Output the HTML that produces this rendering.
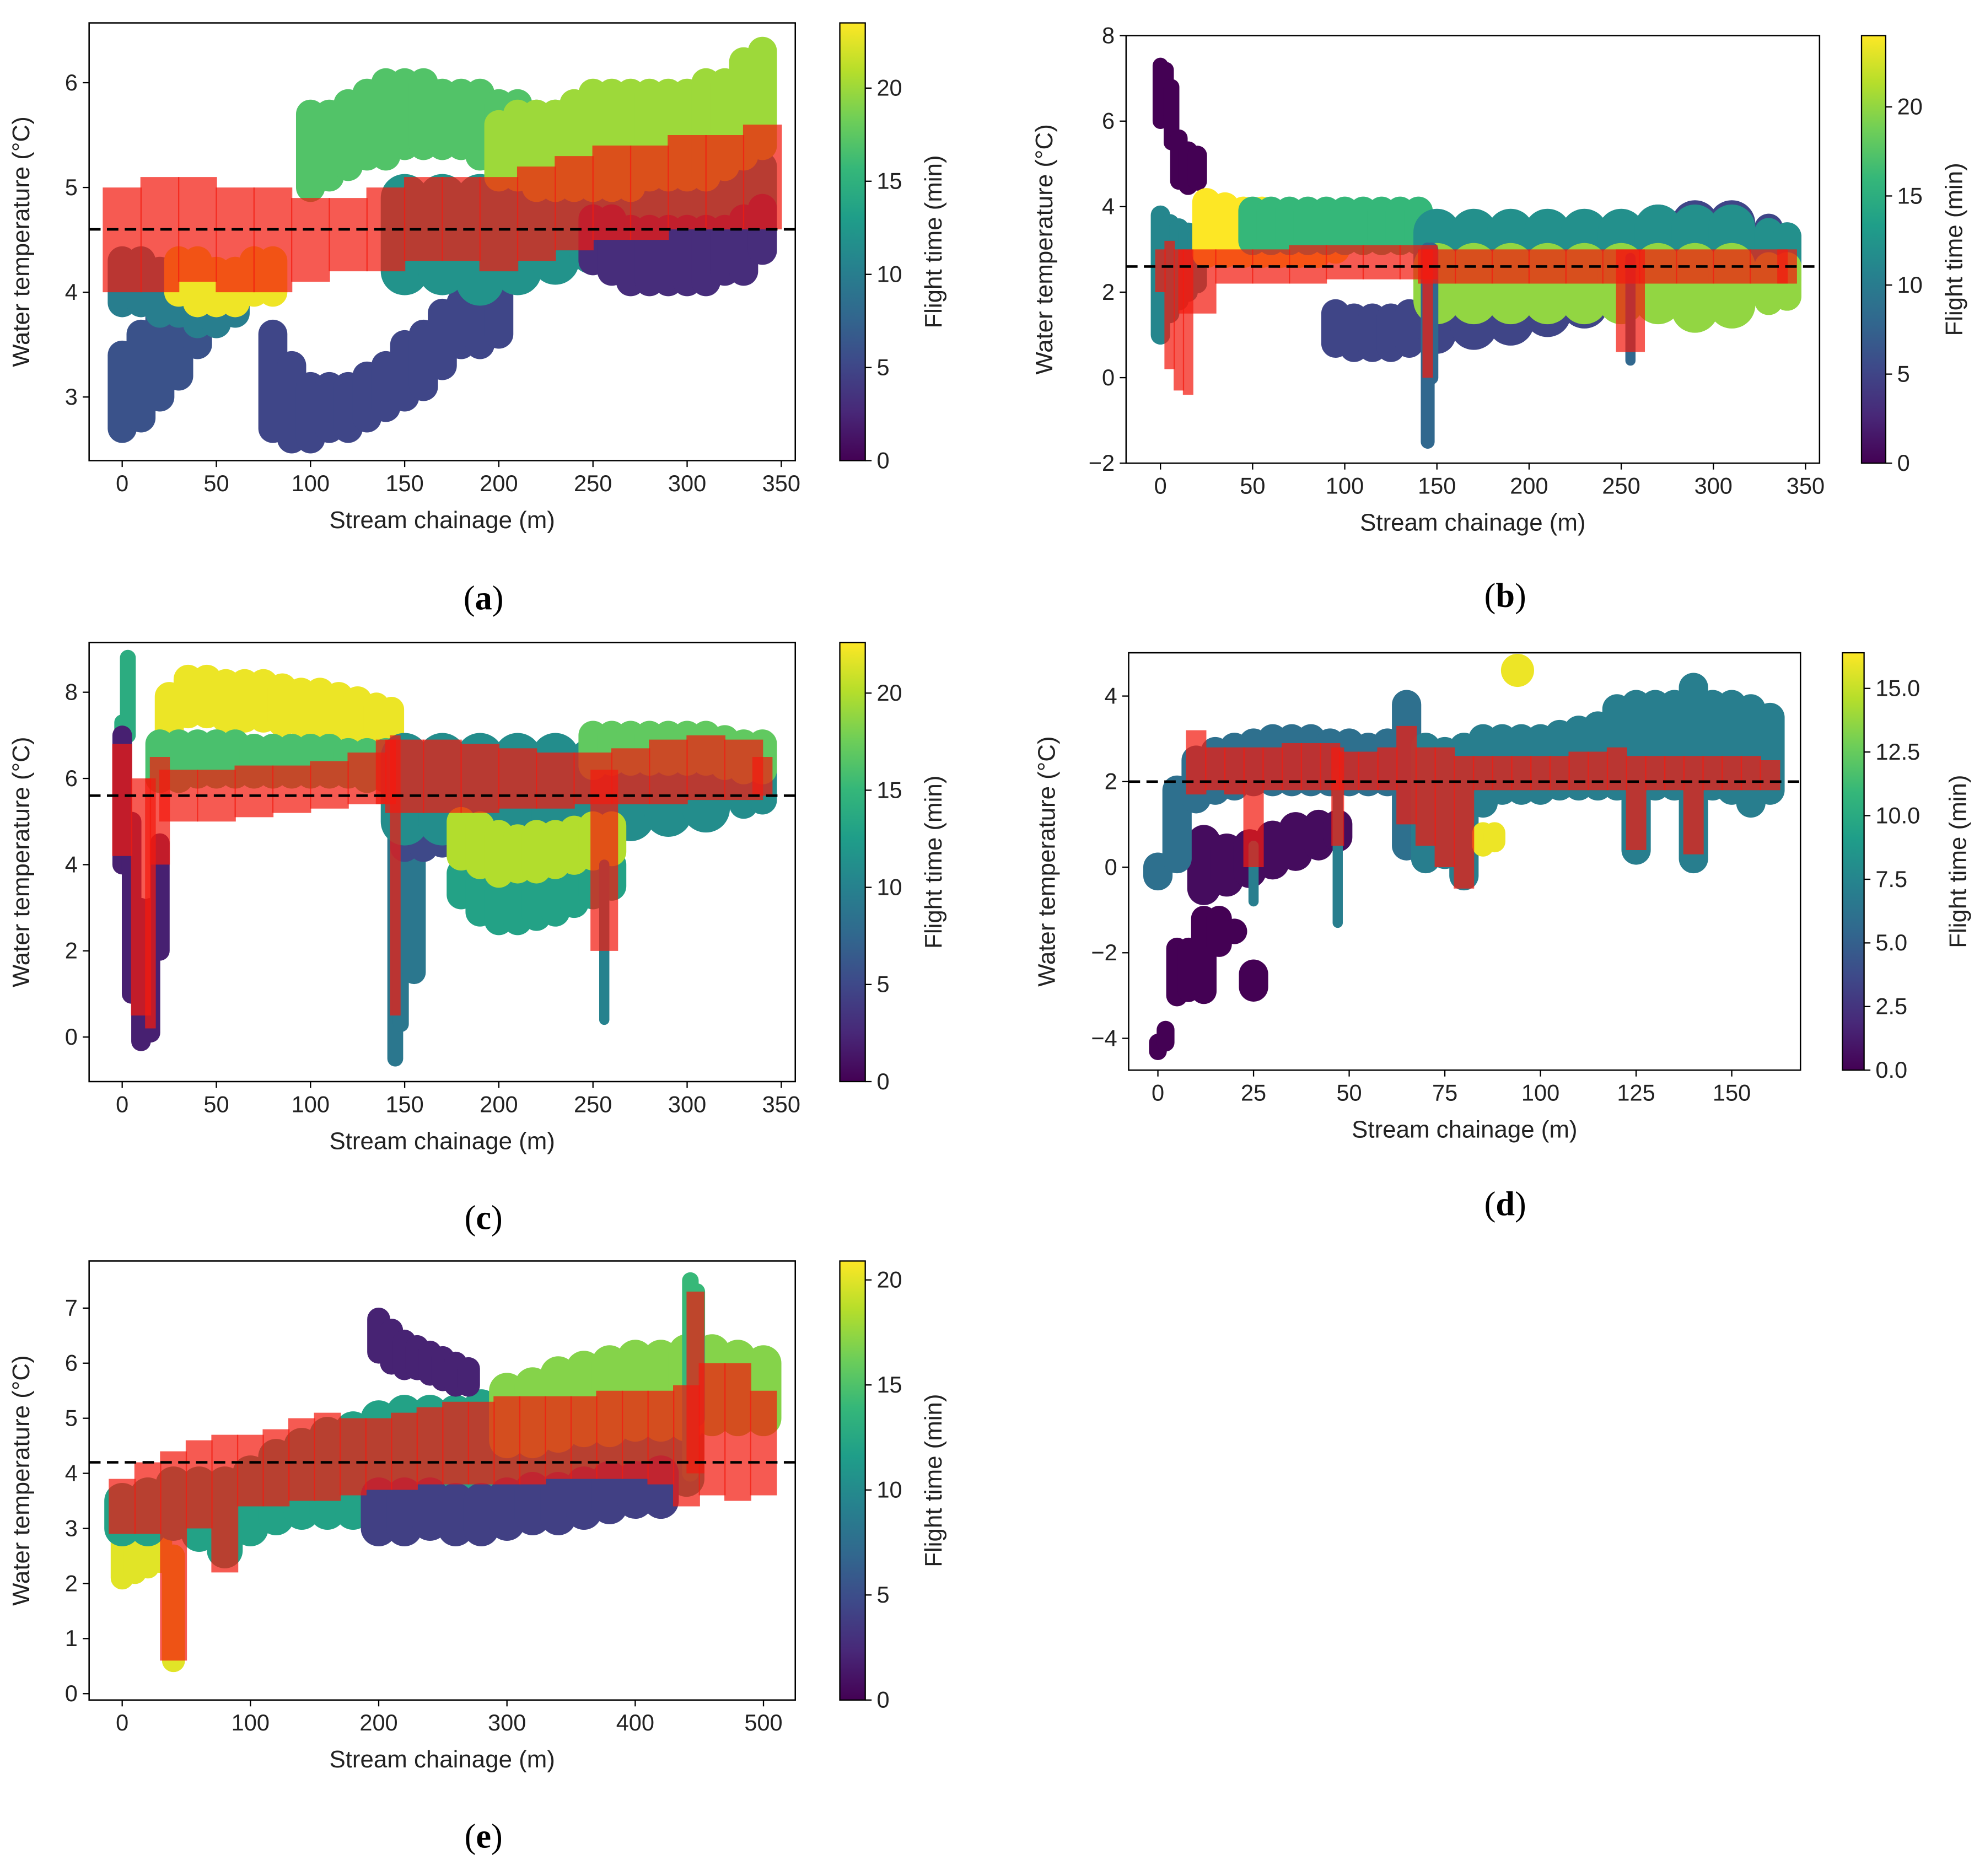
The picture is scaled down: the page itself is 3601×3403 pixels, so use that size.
<!DOCTYPE html>
<html><head><meta charset="utf-8">
<style>
html,body{margin:0;padding:0;background:#fff;}
svg{display:block;font-family:"Liberation Sans","DejaVu Sans",sans-serif;}
</style></head>
<body>
<svg id="fig" xmlns="http://www.w3.org/2000/svg" width="3601" height="3403" viewBox="0 0 1560 1474.3">
<rect width="1560" height="1474.3" fill="#fff"/>
</svg>
<script>
// ---------- DATA ----------
const aXTicks=[0,50,100,150,200,250,300,350]; const aYTicks=[3,4,5,6]; const aCTicks=[0,5,10,15,20]; const aDash=4.6;
const aBands=[
 {ft:6,x:[0,10,20,30,40],lo:[2.7,2.8,3.0,3.2,3.5],hi:[3.4,3.6,3.8,4.0,4.1]},
 {ft:10,x:[0,10,20,30,40,50,60],lo:[3.9,3.9,3.8,3.8,3.7,3.7,3.8],hi:[4.3,4.3,4.2,4.2,4.1,4.0,4.0]},
 {ft:23,x:[30,40,50,60,70,80],lo:[4.0,3.9,3.9,3.9,4.0,4.0],hi:[4.3,4.3,4.2,4.2,4.3,4.3]},
 {ft:5,x:[80,90,100,110,120,130,140,150,160,170,180,190,200],lo:[2.7,2.6,2.6,2.7,2.7,2.8,2.9,3.0,3.1,3.3,3.5,3.5,3.6],hi:[3.6,3.3,3.1,3.1,3.1,3.2,3.3,3.5,3.6,3.8,3.9,4.0,4.0]},
 {ft:17,x:[100,110,120,130,140,150,160,170,180,190,200,210,220,230],lo:[5.0,5.1,5.2,5.3,5.3,5.4,5.4,5.4,5.4,5.3,5.3,5.2,5.2,5.1],hi:[5.7,5.7,5.8,5.9,6.0,6.0,6.0,5.9,5.9,5.9,5.8,5.8,5.7,5.7]},
 {ft:12,x:[150,170,190,210,230,250,270,290,310,330,340],lo:[4.2,4.2,4.1,4.2,4.3,4.4,4.5,4.5,4.6,4.7,4.7],hi:[4.9,4.9,4.9,5.0,5.0,5.0,5.1,5.1,5.1,5.2,5.2]},
 {ft:20,x:[200,210,220,230,240,250,260,270,280,290,300,310,320,330,340],lo:[5.1,5.1,5.0,5.0,5.0,5.0,5.0,5.0,5.1,5.1,5.1,5.1,5.2,5.3,5.4],hi:[5.6,5.7,5.7,5.7,5.8,5.9,5.9,5.9,5.9,5.9,5.9,6.0,6.0,6.2,6.3]},
 {ft:3,x:[250,260,270,280,290,300,310,320,330,340],lo:[4.3,4.2,4.1,4.1,4.1,4.1,4.1,4.2,4.2,4.4],hi:[4.7,4.7,4.6,4.6,4.6,4.6,4.6,4.6,4.7,4.8]}
];
const aRed={x:[0,20,40,60,80,100,120,140,160,180,200,220,240,260,280,300,320,340],lo:[4.0,4.0,4.1,4.0,4.0,4.1,4.2,4.2,4.3,4.3,4.2,4.3,4.4,4.5,4.5,4.6,4.6,4.6],hi:[5.0,5.1,5.1,5.0,5.0,4.9,4.9,5.0,5.1,5.1,5.1,5.2,5.3,5.4,5.4,5.5,5.5,5.6]};

const bXTicks=[0,50,100,150,200,250,300,350]; const bYTicks=[-2,0,2,4,6,8]; const bCTicks=[0,5,10,15,20]; const bDash=2.6;
const bBands=[
 {ft:11,x:[0,5,10,15,20],lo:[1.0,1.5,1.8,2.0,2.2],hi:[3.8,3.6,3.5,3.4,3.3]},
 {ft:0,x:[0,3,6,10,15,20],lo:[6.0,6.3,5.5,4.6,4.5,4.6],hi:[7.3,7.2,6.8,5.6,5.3,5.2]},
 {ft:24,x:[25,35,45,55,65,75,85,95],lo:[2.9,2.9,2.9,2.9,2.9,2.9,2.9,3.0],hi:[4.1,4.0,3.9,3.9,3.8,3.8,3.8,3.8]},
 {ft:16,x:[50,60,70,80,90,100,110,120,130,140],lo:[3.2,3.2,3.2,3.2,3.2,3.2,3.2,3.2,3.2,3.2],hi:[3.9,3.9,3.9,3.9,3.9,3.9,3.9,3.9,3.9,3.9]},
 {ft:5,x:[95,105,115,125,135,150,170,190,210,230,250,270,290,310,330,340],lo:[0.8,0.7,0.7,0.7,0.8,1.0,1.2,1.3,1.5,1.7,2.0,2.2,2.2,2.3,2.3,2.3],hi:[1.5,1.4,1.4,1.4,1.5,1.7,1.8,2.0,2.2,2.5,3.0,3.5,3.6,3.6,3.5,3.3]},
 {ft:12,x:[150,170,190,210,230,250,270,290,310,330,340],lo:[2.3,2.3,2.3,2.3,2.3,2.4,2.4,2.4,2.4,2.4,2.4],hi:[3.4,3.4,3.4,3.4,3.4,3.4,3.5,3.5,3.5,3.4,3.3]},
 {ft:20,x:[150,170,190,210,230,250,270,290,310,330,340],lo:[1.8,1.8,1.8,1.8,1.8,1.8,1.8,1.6,1.7,1.8,1.9],hi:[2.6,2.6,2.6,2.6,2.6,2.6,2.6,2.6,2.6,2.6,2.6]},
 {ft:8,x:[145,147,255],lo:[-1.5,0.0,0.4],hi:[3.0,3.0,2.8]}
];
const bRed={x:[0,5,10,15,20,40,60,80,100,120,140,145,150,170,190,210,230,250,255,270,290,310,330,340],lo:[2.0,0.2,-0.3,-0.4,1.5,2.2,2.2,2.2,2.3,2.3,2.3,0.0,2.2,2.2,2.2,2.2,2.2,2.2,0.6,2.2,2.2,2.2,2.2,2.2],hi:[3.0,3.2,3.0,3.0,3.0,3.0,3.0,3.1,3.1,3.1,3.1,3.0,3.0,3.0,3.0,3.0,3.0,3.0,3.0,3.0,3.0,3.0,3.0,3.0]};

const cXTicks=[0,50,100,150,200,250,300,350]; const cYTicks=[0,2,4,6,8]; const cCTicks=[0,5,10,15,20]; const cDash=5.6;
const cBands=[
 {ft:14,x:[0,3],lo:[5.0,7.0],hi:[7.3,8.8]},
 {ft:2,x:[0,5,10,15,20],lo:[4.0,1.0,-0.1,0.1,2.0],hi:[7.0,5.0,3.0,3.0,4.5]},
 {ft:22,x:[25,35,45,55,65,75,85,95,105,115,125,135,143],lo:[7.0,7.5,7.5,7.4,7.4,7.4,7.3,7.3,7.2,7.2,7.1,7.0,7.0],hi:[7.9,8.3,8.3,8.2,8.2,8.2,8.1,8.0,8.0,7.9,7.8,7.7,7.6]},
 {ft:16,x:[20,30,40,50,60,70,80,90,100,110,120,130,140],lo:[6.0,6.0,6.1,6.1,6.1,6.1,6.1,6.1,6.1,6.1,6.1,6.0,6.0],hi:[6.8,6.8,6.8,6.8,6.8,6.7,6.7,6.7,6.7,6.7,6.6,6.6,6.6]},
 {ft:9,x:[145,148,155],lo:[-0.5,0.3,1.5],hi:[6.0,6.0,5.5]},
 {ft:5,x:[150,160,170,180,190,200],lo:[4.4,4.4,4.5,4.6,4.6,4.7],hi:[5.5,5.5,5.5,5.5,5.5,5.5]},
 {ft:11,x:[150,170,190,210,230,250,270,290,310,330,340],lo:[5.0,5.0,5.0,5.0,5.0,5.0,5.1,5.2,5.3,5.4,5.5],hi:[6.5,6.5,6.5,6.5,6.5,6.4,6.5,6.5,6.4,6.3,6.2]},
 {ft:13,x:[180,190,200,210,220,230,240,250,260],lo:[3.3,2.9,2.7,2.7,2.8,2.9,3.1,3.3,3.5],hi:[3.8,3.6,3.4,3.4,3.5,3.6,3.8,3.9,4.0]},
 {ft:20,x:[180,190,200,210,220,230,240,250,260],lo:[4.2,4.0,3.8,3.9,3.9,4.0,4.1,4.2,4.3],hi:[5.0,4.9,4.7,4.6,4.7,4.7,4.8,4.9,4.9]},
 {ft:17,x:[250,260,270,280,290,300,310,320,330,340],lo:[6.3,6.4,6.4,6.4,6.4,6.4,6.4,6.3,6.2,6.2],hi:[7.0,7.0,7.0,7.0,7.0,7.0,7.0,6.9,6.8,6.8]},
 {ft:10,x:[256],lo:[0.4],hi:[4.0]}
];
const cRed={x:[0,10,15,20,30,50,70,90,110,130,140,145,150,170,190,210,230,250,256,270,290,310,330,340],lo:[4.2,0.5,0.2,4.0,5.0,5.0,5.1,5.2,5.3,5.4,5.4,0.5,5.2,5.2,5.2,5.3,5.3,5.4,2.0,5.4,5.4,5.5,5.5,5.6],hi:[6.8,6.0,6.0,6.5,6.2,6.2,6.3,6.3,6.4,6.6,6.9,7.0,6.9,6.9,6.8,6.7,6.6,6.6,6.2,6.7,6.9,7.0,6.9,6.5]};

const dXTicks=[0,25,50,75,100,125,150]; const dYTicks=[-4,-2,0,2,4]; const dCTicks=[0,2.5,5,7.5,10,12.5,15]; const dDash=2;
const dBands=[
 {ft:0,x:[0,2,5,8,12,16,20,25],lo:[-4.3,-4.1,-3.0,-2.9,-2.9,-1.8,-1.5,-2.8],hi:[-4.1,-3.8,-1.9,-1.9,-1.2,-1.2,-1.5,-2.5]},
 {ft:0.5,x:[12,18,24,30,36,42,47],lo:[-0.5,-0.3,-0.1,0.1,0.3,0.5,0.7],hi:[0.6,0.4,0.5,0.7,0.9,1.0,1.0]},
 {ft:6,x:[0,5,10,15,20,25,30,35,40,45,50,55,60,65],lo:[-0.2,0.2,1.6,1.8,1.9,2.0,2.0,2.0,2.0,2.0,2.0,2.0,2.0,0.5],hi:[0.0,1.8,2.5,2.7,2.8,2.9,3.0,3.0,3.0,2.9,2.9,2.8,2.9,3.8]},
 {ft:7,x:[25,47,70,75,80,85,90,95,100,105,110,115,120,125,130,135,140,145,150,155,160],lo:[-0.8,-1.3,0.2,0.3,-0.2,1.5,1.8,1.8,1.8,1.9,1.9,1.9,1.9,0.4,1.9,1.9,0.2,1.9,1.8,1.5,1.8],hi:[0.5,2.2,2.8,2.7,2.8,3.0,3.0,3.0,3.0,3.1,3.2,3.3,3.7,3.8,3.8,3.8,4.2,3.8,3.8,3.7,3.5]},
 {ft:16,x:[85,88,94],lo:[0.5,0.6,4.6],hi:[0.8,0.8,4.6]}
];
const dRed={x:[10,15,20,25,30,35,40,45,47,50,55,60,65,70,75,80,85,90,95,100,105,110,115,120,125,130,135,140,145,150,155,160],lo:[1.7,1.8,1.7,0.0,1.8,1.8,1.8,1.8,0.5,1.8,1.8,1.8,1.0,0.5,0.0,-0.5,1.8,1.8,1.8,1.8,1.8,1.8,1.8,1.8,0.4,1.8,1.8,0.3,1.8,1.8,1.8,1.8],hi:[3.2,2.8,2.8,2.8,2.8,2.9,2.9,2.9,2.8,2.7,2.7,2.8,3.3,2.8,2.8,2.6,2.6,2.6,2.6,2.6,2.6,2.7,2.7,2.8,2.6,2.6,2.6,2.6,2.6,2.6,2.6,2.5]};

const eXTicks=[0,100,200,300,400,500]; const eYTicks=[0,1,2,3,4,5,6,7]; const eCTicks=[0,5,10,15,20]; const eDash=4.2;
const eBands=[
 {ft:20,x:[0,10,20,30,40],lo:[2.1,2.2,2.3,2.4,0.6],hi:[3.0,3.1,3.2,3.1,2.5]},
 {ft:12,x:[0,20,40,60,80,100,120,140,160,180,200,220,240,260,280,300,320,340,360,380,400,420,440],lo:[3.0,3.0,3.1,2.9,2.6,3.0,3.2,3.3,3.3,3.3,3.4,3.5,3.6,3.6,3.6,3.6,3.7,3.7,3.8,3.8,3.8,3.8,3.9],hi:[3.5,3.6,3.8,3.8,3.8,4.0,4.3,4.5,4.7,4.8,5.0,5.1,5.1,5.1,5.2,5.2,5.2,5.2,5.3,5.3,5.3,5.3,5.4]},
 {ft:4,x:[200,220,240,260,280,300,320,340,360,380,400,420],lo:[3.0,3.0,3.1,3.0,3.0,3.1,3.2,3.2,3.3,3.4,3.5,3.5],hi:[3.6,3.6,3.6,3.5,3.5,3.6,3.7,3.7,3.8,3.9,3.9,4.0]},
 {ft:2,x:[200,210,220,230,240,250,260,270],lo:[6.2,6.0,5.9,5.9,5.8,5.7,5.6,5.6],hi:[6.8,6.6,6.4,6.3,6.2,6.1,6.0,5.9]},
 {ft:17,x:[300,320,340,360,380,400,420,440,460,480,500],lo:[4.6,4.6,4.7,4.8,4.8,4.9,4.9,4.9,5.0,5.0,5.0],hi:[5.5,5.6,5.8,5.9,6.0,6.1,6.1,6.2,6.2,6.1,6.0]},
 {ft:14,x:[443,448],lo:[4.0,5.0],hi:[7.5,7.3]}
];
const eRed={x:[0,20,40,60,80,100,120,140,160,180,200,220,240,260,280,300,320,340,360,380,400,420,440,447,460,480,500],lo:[2.9,2.9,0.6,3.0,2.2,3.4,3.4,3.5,3.5,3.6,3.7,3.7,3.8,3.8,3.8,3.8,3.8,3.9,3.9,3.9,3.9,3.8,3.4,4.0,3.6,3.5,3.6],hi:[3.9,4.2,4.4,4.6,4.7,4.7,4.8,5.0,5.1,5.0,5.0,5.1,5.2,5.3,5.3,5.4,5.4,5.4,5.4,5.5,5.5,5.5,5.6,7.3,6.0,6.0,5.5]};

// ---------- LAYOUT ----------
const NS="http://www.w3.org/2000/svg";
const svg=document.getElementById('fig');
const VIR=["#440154","#482878","#3e4989","#31688e","#26828e","#1f9e89","#35b779","#6ece58","#b5de2b","#fde725"];
function vir(t){t=Math.max(0,Math.min(1,t));const p=t*(VIR.length-1),i=Math.min(Math.floor(p),VIR.length-2),f=p-i;
 const a=VIR[i],b=VIR[i+1];const c=k=>Math.round(parseInt(a.substr(k,2),16)*(1-f)+parseInt(b.substr(k,2),16)*f);
 return `rgb(${c(1)},${c(3)},${c(5)})`;}
function el(tag,attrs,parent){const e=document.createElementNS(NS,tag);for(const k in attrs)e.setAttribute(k,attrs[k]);(parent||svg).appendChild(e);return e;}
// pixel gap to neighbours (mode: 'min' or 'max'), capped
function pxGap(xs,i,kx,mode){const gs=[];if(i>0)gs.push(xs[i]-xs[i-1]);if(i<xs.length-1)gs.push(xs[i+1]-xs[i]);
 if(!gs.length)return 0;const g=(mode==='max'?Math.max(...gs):Math.min(...gs))*kx;return g>32?0:g;}

const panels=[
 {id:'a',bands:aBands,red:aRed,xt:aXTicks,yt:aYTicks,ct:aCTicks,dash:aDash,box:[70,18,625,362],x0:[0,96],x1:[350,614],y0:[3,312],y1:[6,65],cb:[660,680],cmax:23.5,lbl:[380,470]},
 {id:'b',bands:bBands,red:bRed,xt:bXTicks,yt:bYTicks,ct:bCTicks,dash:bDash,box:[885,28,1430,364],x0:[0,912],x1:[350,1419],y0:[-2,364],y1:[8,28],cb:[1463,1482],cmax:24,lbl:[1183,468]},
 {id:'c',bands:cBands,red:cRed,xt:cXTicks,yt:cYTicks,ct:cCTicks,dash:cDash,box:[70,505,625,850],x0:[0,96],x1:[350,614],y0:[0,815],y1:[8,544],cb:[660,680],cmax:22.6,lbl:[380,957]},
 {id:'d',bands:dBands,red:dRed,xt:dXTicks,yt:dYTicks,ct:dCTicks,dash:dDash,box:[887,513,1415,841],x0:[0,910],x1:[150,1361],y0:[-4,816],y1:[4,547],cb:[1448,1465],cmax:16.4,lbl:[1183,946]},
 {id:'e',bands:eBands,red:eRed,xt:eXTicks,yt:eYTicks,ct:eCTicks,dash:eDash,box:[70,991,625,1336],x0:[0,96],x1:[500,600],y0:[0,1331],y1:[7,1028],cb:[660,680],cmax:20.9,lbl:[380,1443]}
];
const DOT=8;
const defs=el('defs',{});
panels.forEach(P=>{
 const [L,T,R,B]=P.box;
 const kx=(P.x1[1]-P.x0[1])/(P.x1[0]-P.x0[0]);
 const sx=v=>P.x0[1]+(v-P.x0[0])*kx;
 const sy=v=>P.y0[1]+(v-P.y0[0])*(P.y1[1]-P.y0[1])/(P.y1[0]-P.y0[0]);
 const g=el('g',{});
 
 
 const cp=el('clipPath',{id:'clip'+P.id},defs);el('rect',{x:L,y:T,width:R-L,height:B-T},cp);
 const plot=el('g',{'clip-path':`url(#clip${P.id})`},g);
 
 
 P.bands.forEach(bd=>{
  const col=vir(bd.ft/P.cmax);
  bd.x.forEach((x,i)=>{
   const w=pxGap(bd.x,i,kx,'min')+DOT;
   const ln=el('line',{x1:sx(x),x2:sx(x),y1:sy(bd.lo[i]),y2:sy(bd.hi[i]),stroke:col,'stroke-width':w,'stroke-linecap':'round'},plot);
   
   
  });
 });
 P.red.x.forEach((x,i)=>{
  const w=Math.max(3,pxGap(P.red.x,i,kx,'max')+1);
  const ln=el('line',{x1:sx(x),x2:sx(x),y1:sy(P.red.lo[i]),y2:sy(P.red.hi[i]),stroke:'#f21a0f','stroke-width':w,'stroke-opacity':0.72},plot);
  
  
 });
 const dl=el('line',{x1:L,x2:R,y1:sy(P.dash),y2:sy(P.dash),stroke:'#000','stroke-width':2,'stroke-dasharray':'9 5'},g);
 
 
 const fr=el('rect',{x:L,y:T,width:R-L,height:B-T,fill:'none',stroke:'#000','stroke-width':1.1},g);
 
 
 P.xt.forEach(v=>{
  el('line',{x1:sx(v),x2:sx(v),y1:B,y2:B+5,stroke:'#000','stroke-width':1},g);
  const t=el('text',{x:sx(v),y:B+24,'font-size':18,'text-anchor':'middle',fill:'#222'},g);t.textContent=v;
  
  
 });
 P.yt.forEach(v=>{
  el('line',{x1:L-5,x2:L,y1:sy(v),y2:sy(v),stroke:'#000','stroke-width':1},g);
  const t=el('text',{x:L-9,y:sy(v)+6,'font-size':18,'text-anchor':'end',fill:'#222'},g);t.textContent=(v<0?'\u2212'+(-v):v);
  
  
 });
 const xl=el('text',{x:(L+R)/2,y:B+53,'font-size':19,'text-anchor':'middle',fill:'#222'},g);xl.textContent='Stream chainage (m)';
 
 
 const yx=L-(P.id==='b'||P.id==='d'?58:47);
 const yl=el('text',{x:yx,y:(T+B)/2,'font-size':19,'text-anchor':'middle',fill:'#222',transform:`rotate(-90 ${yx} ${(T+B)/2})`},g);yl.textContent='Water temperature (°C)';
 
 
 const gid='grad'+P.id;const lg=el('linearGradient',{id:gid,x1:0,y1:1,x2:0,y2:0},defs);
 VIR.forEach((c,i)=>el('stop',{offset:i/(VIR.length-1),'stop-color':c},lg));
 const [cl,cr]=P.cb;
 const cb=el('rect',{x:cl,y:T,width:cr-cl,height:B-T,fill:`url(#${gid})`,stroke:'#000','stroke-width':1},g);
 
 
 const cy=v=>B-v/P.cmax*(B-T);
 P.ct.forEach(v=>{
  el('line',{x1:cr,x2:cr+5,y1:cy(v),y2:cy(v),stroke:'#000','stroke-width':1},g);
  const t=el('text',{x:cr+9,y:cy(v)+6,'font-size':18,fill:'#222'},g);t.textContent=(P.id==='d'?v.toFixed(1):v);
  
  
 });
 const cx=cr+(P.id==='d'?80:60);
 const ct=el('text',{x:cx,y:(T+B)/2,'font-size':19,'text-anchor':'middle',fill:'#222',transform:`rotate(-90 ${cx} ${(T+B)/2})`},g);ct.textContent='Flight time (min)';
 
 
 const pl=el('text',{x:P.lbl[0],y:P.lbl[1]+9,'font-size':27,'text-anchor':'middle',fill:'#000','font-family':'"Liberation Serif",serif'},g);
 pl.innerHTML='(<tspan font-weight="bold">'+P.id+'</tspan>)';
 
 
});
</script>
</body></html>
